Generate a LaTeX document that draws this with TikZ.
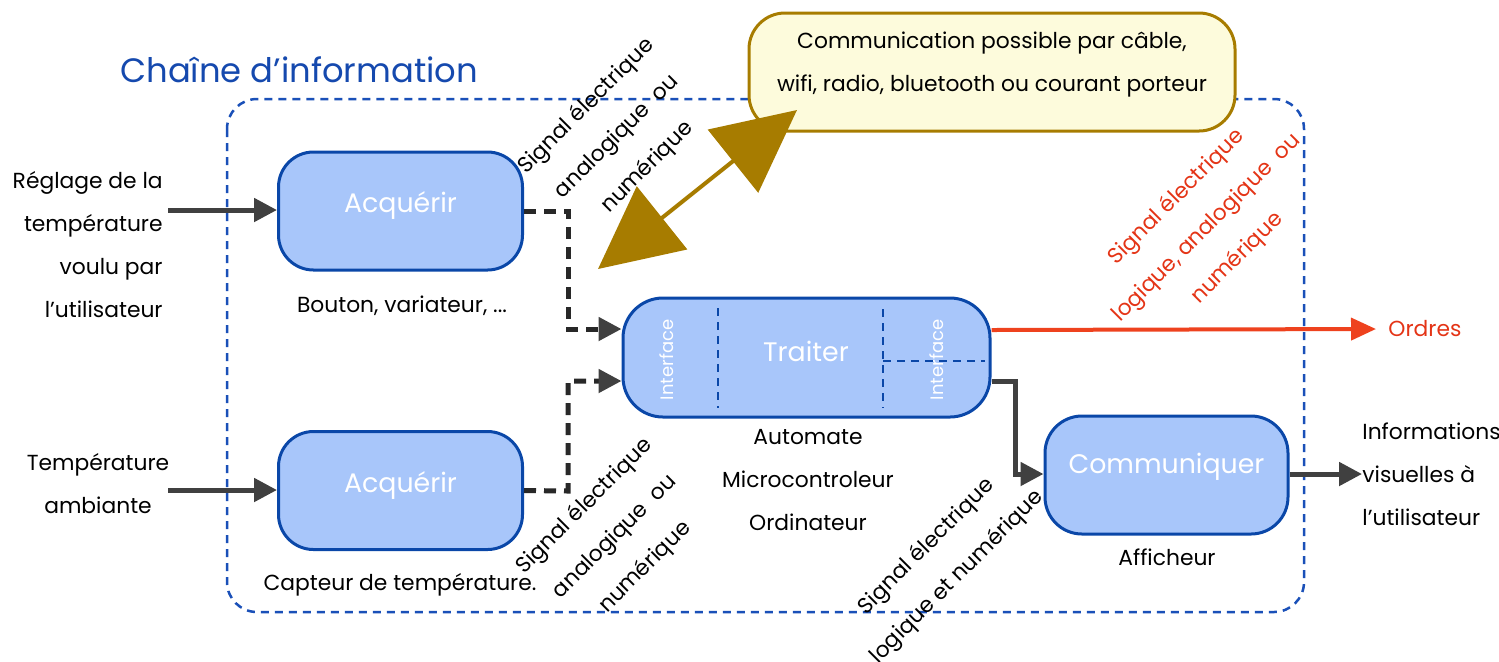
\documentclass[tikz,border=0pt]{standalone}
\usepackage{fontspec}
\setmainfont{Poppins}
\usetikzlibrary{arrows.meta}
\definecolor{boxfill}{RGB}{168,198,250}
\definecolor{boxdraw}{RGB}{10,71,168}
\definecolor{outerc}{RGB}{26,80,184}
\definecolor{titleblue}{RGB}{21,73,174}
\definecolor{yfill}{RGB}{253,251,220}
\definecolor{gold}{RGB}{167,124,0}
\definecolor{redc}{RGB}{238,66,30}
\definecolor{redt}{RGB}{228,52,22}
\definecolor{darkg}{RGB}{64,64,64}
\definecolor{dashg}{RGB}{40,40,40}
\begin{document}
\begin{tikzpicture}[x=0.5pt,y=-0.5pt,
  fbox/.style={draw=boxdraw,fill=boxfill,line width=1.5pt,rectangle,inner sep=0pt},
  boxtext/.style={text=white,font=\fontsize{13.4pt}{15pt}\selectfont},
  txt/.style={font=\fontsize{10.9pt}{21.5pt}\selectfont,inner sep=0pt},
  rtxt/.style={txt,align=center,rotate=45},
  iface/.style={text=white,font=\fontsize{9pt}{10pt}\selectfont,rotate=90,inner sep=0pt},
  inarrow/.style={draw=darkg,line width=2.5pt,-{Triangle[length=11.5pt,width=11.5pt]}},
  dconn/.style={draw=dashg,line width=2.5pt,dash pattern=on 6pt off 4pt,-{Triangle[length=11.5pt,width=11.5pt,fill=darkg,color=darkg]}},
  innerdash/.style={draw=boxdraw,line width=1.3pt,dash pattern=on 4pt off 3pt},
]
\useasboundingbox (0,0) rectangle (1499,661);

% outer dashed frame
\draw[outerc,line width=1.25pt,dash pattern=on 4pt off 3pt,rounded corners=15pt] (227,99) rectangle (1304,612);

% title
\node[text=titleblue,font=\fontsize{16.9pt}{20pt}\selectfont,anchor=west,inner sep=0pt] (title) at (120,70) {Chaîne d’information};

% communication box
\node[draw=gold,fill=yfill,line width=1.5pt,rectangle,rounded corners=18pt,minimum width=243pt,minimum height=59pt,inner sep=0pt] (comm) at (992,72) {};
\node[txt,align=center] (commtxt) at (992,65) {Communication possible par câble,\\wifi, radio, bluetooth ou courant porteur};

% boxes
\node[fbox,rounded corners=17.5pt,minimum width=122pt,minimum height=59pt] (acq1) at (400.5,211) {};
\node[boxtext] (acq1t) at (400.5,205) {Acquérir};
\node[fbox,rounded corners=17.5pt,minimum width=122pt,minimum height=59pt] (acq2) at (400.5,490.5) {};
\node[boxtext] (acq2t) at (400.5,485) {Acquérir};
\node[fbox,rounded corners=20pt,minimum width=183.5pt,minimum height=59.5pt] (traiter) at (806.5,357.5) {};
\node[boxtext] (traitert) at (806,351) {Traiter};
\node[fbox,rounded corners=18.5pt,minimum width=121.5pt,minimum height=59pt] (comu) at (1166.5,475) {};
\node[boxtext] (comut) at (1166.5,467) {Communiquer};

% inner dashed lines of Traiter
\draw[innerdash] (718,308) -- (718,408);
\draw[innerdash] (883,309) -- (883,408);
\draw[innerdash] (883,361) -- (985,361);
\node[iface] (if1) at (667,360) {Interface};
\node[iface] (if2) at (937,360) {Interface};

% captions
\node[txt,align=right,anchor=east] (reg) at (163,245) {Réglage de la\\température\\voulu par\\l’utilisateur};
\node[txt,align=center] (amb) at (98,484) {Température\\ambiante};
\node[txt] (bouton) at (402,306) {Bouton, variateur, ...};
\node[txt] (capteur) at (400,585) {Capteur de température.};
\node[txt,align=center] (auto) at (808,480) {Automate\\Microcontroleur\\Ordinateur};
\node[txt] (affich) at (1167,557) {Afficheur};
\node[txt,align=left,anchor=west] (infos) at (1362,474) {Informations\\visuelles à\\l’utilisateur};
\node[txt,text=redt,anchor=west,inner xsep=6pt] (ordres) at (1376,329) {Ordres};

% rotated labels
\node[rtxt] (sig1) at (617,137) {Signal électrique\\analogique\ \ ou\\numérique};
\node[rtxt] (sig2) at (615,537) {Signal électrique\\analogique\ \ ou\\numérique};
\node[rtxt,text=redt] (sig3) at (1207,228) {Signal électrique\\logique, analogique\ \ ou\\numérique};
\node[rtxt] (sig4) at (942,562) {Signal électrique\\logique et numérique};

% input arrows
\coordinate (in1) at (168,210);
\coordinate (in2) at (168,490);
\draw[inarrow] (in1) -- (acq1.west |- in1);
\draw[inarrow] (in2) -- (acq2.west |- in2);

% dashed connectors
\draw[dconn] (acq1.east) -- (568,211) -- (568,329) -- (traiter.west |- 0,329);
\draw[dconn] (acq2.east) -- (568,491) -- (568,381) -- (traiter.west |- 0,381);

% Traiter -> Communiquer
\draw[inarrow] (traiter.east |- 0,381) -- (1015,381) -- (1015,474) -- (comu.west |- 0,474);
% Communiquer -> out
\coordinate (out1) at (1362,474);
\draw[inarrow] (comu.east |- 0,474) -- (out1);

% red arrow
\draw[redc,line width=2pt,-{Triangle[length=12.5pt,width=11pt]}] (traiter.east |- 0,330) -- (ordres.west);

% gold double arrow
\coordinate (g1) at (598,269);
\coordinate (g2) at (797,110);
\draw[gold,line width=2pt,{Triangle[length=41pt,width=40pt]}-{Triangle[length=41pt,width=40pt]}] (g1) -- (g2);
\end{tikzpicture}
\end{document}
